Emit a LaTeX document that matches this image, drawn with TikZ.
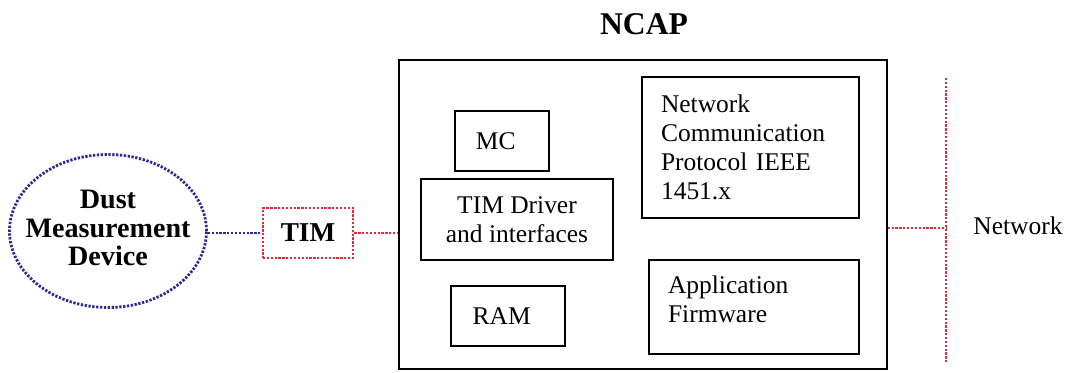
\documentclass[tikz,border=0pt]{standalone}
\usepackage{fontspec}
\setmainfont{Liberation Serif}
\usepackage{xcolor}
\usepackage{tikz}
\usetikzlibrary{shapes.geometric}
\definecolor{devblue}{RGB}{45,40,150}
\definecolor{linkred}{RGB}{232,40,60}

\begin{document}
\begin{tikzpicture}[x=0.02cm, y=-0.02cm,
    unitbox/.style={draw=black, line width=0.75pt, inner sep=0pt, align=center,
                    font=\fontsize{14.5}{16.5}\selectfont},
    leftbox/.style={unitbox, align=left, inner xsep=0.38cm},
    bluelink/.style={devblue, line width=1.6pt, dash pattern=on 1.3pt off 0.9pt},
    redlink/.style={linkred, line width=1.6pt, dash pattern=on 1.3pt off 0.9pt}]
    \useasboundingbox (0,0) rectangle (1068,372);

    % Title
    \node[font=\fontsize{18}{20}\selectfont\bfseries] (title) at (644,24) {NCAP};

    % NCAP frame
    \node[draw=black, line width=0.9pt, minimum width=9.76cm, minimum height=6.18cm] (ncap) at (643,214.5) {};

    % Blocks inside the NCAP
    \node[unitbox, minimum width=1.88cm, minimum height=1.2cm] (mc) at (502,141) {MC\hspace{0.25cm}};
    \node[unitbox, minimum width=3.84cm, minimum height=1.62cm] (driver) at (517,219.5) {TIM Driver\\and interfaces};
    \node[unitbox, minimum width=2.28cm, minimum height=1.2cm] (ram) at (508,316) {RAM\hspace{0.25cm}};
    \node[leftbox, text width=3.58cm, minimum height=2.82cm] (proto) at (750.5,147.5)
        {Network\\Communication\\Protocol IEEE\\1451.x};
    \node[leftbox, text width=3.44cm, minimum height=1.88cm] (firm) at (754,307)
        {Application\\Firmware\\[-8pt]\mbox{}};

    % Device and TIM
    \node[ellipse, bluelink, draw, minimum width=3.94cm, minimum height=3.06cm, inner sep=0pt] (dmd) at (108,231) {};
    \node[align=center, font=\fontsize{16}{16}\selectfont\bfseries, yshift=0.06cm] (dmdtext) at (dmd.center) {Dust\\Measurement\\Device};
    \node[redlink, draw, minimum width=1.8cm, minimum height=1.0cm, inner sep=0pt, text=black,
          font=\fontsize{15.5}{17}\selectfont\bfseries] (tim) at (308,233) {TIM};

    \draw[bluelink] (tim.west -| dmd.east) -- (tim.west);
    \draw[redlink] (tim.east) -- (tim.east -| ncap.west);

    % Network bus
    \coordinate (nettop) at (946,78);
    \coordinate (netbot) at (946,362);
    \coordinate (netjoin) at (946,228);
    \draw[redlink] (nettop) -- (netbot);
    \draw[redlink] (netjoin -| ncap.east) -- (netjoin);
    \node[font=\fontsize{14.5}{16.5}\selectfont] (netlabel) at (1018,226) {Network};
\end{tikzpicture}
\end{document}
